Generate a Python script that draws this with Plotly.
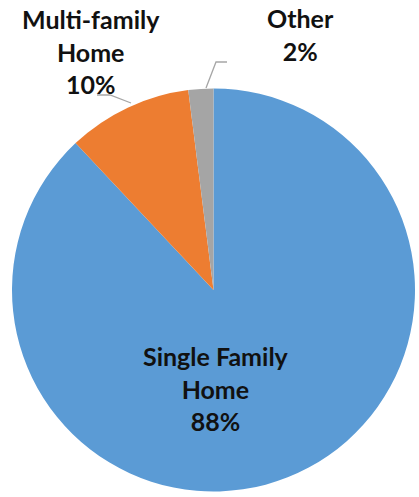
import plotly.graph_objects as go

# Housing type shares
labels = ["Single Family Home", "Multi-family Home", "Other"]
label_lines = [["Single Family", "Home"], ["Multi-family", "Home"], ["Other"]]
values = [88, 10, 2]
colors = ["#5B9BD5", "#ED7D31", "#A5A5A5"]

W, H = 419, 497


def px(x, y):
    """Pixel position -> paper coordinates (no margins)."""
    return x / W, 1 - y / H


fig = go.Figure(
    go.Pie(
        labels=labels,
        values=values,
        sort=False,
        direction="clockwise",
        rotation=0,
        marker=dict(colors=colors, line=dict(width=0)),
        textinfo="none",
        hoverinfo="label+percent",
        showlegend=False,
        domain=dict(x=[12 / W, 415 / W], y=[1 - 493 / H, 1 - 87 / H]),
    )
)

total = sum(values)


def label_text(i):
    pct = round(100 * values[i] / total)
    return "<br>".join(["<b>%s</b>" % s for s in label_lines[i]] + ["<b>%d%%</b>" % pct])


font = dict(family="Lato", size=25, color="#111111")

# label anchor (pixel centre of the text block)
label_pos = [(216, 388), (91, 51), (300, 34)]
annotations = []
for i, (x, y) in enumerate(label_pos):
    ax, ay = px(x, y)
    annotations.append(
        dict(
            text=label_text(i),
            x=ax,
            y=ay,
            xref="paper",
            yref="paper",
            xanchor="center",
            yanchor="middle",
            showarrow=False,
            font=font,
        )
    )

# leader lines for the two small slices
leaders = [
    [(97, 95), (110, 95), (131, 103)],
    [(227, 62), (216, 62), (206, 88)],
]
shapes = []
for pts in leaders:
    p = [px(x, y) for x, y in pts]
    path = "M %f %f " % p[0] + " ".join("L %f %f" % q for q in p[1:])
    shapes.append(
        dict(type="path", path=path, xref="paper", yref="paper",
             line=dict(color="#A6A6A6", width=1.3))
    )

fig.update_layout(
    width=W,
    height=H,
    margin=dict(l=0, r=0, t=0, b=0),
    paper_bgcolor="white",
    plot_bgcolor="white",
    annotations=annotations,
    shapes=shapes,
)

fig.write_html("out.html")
